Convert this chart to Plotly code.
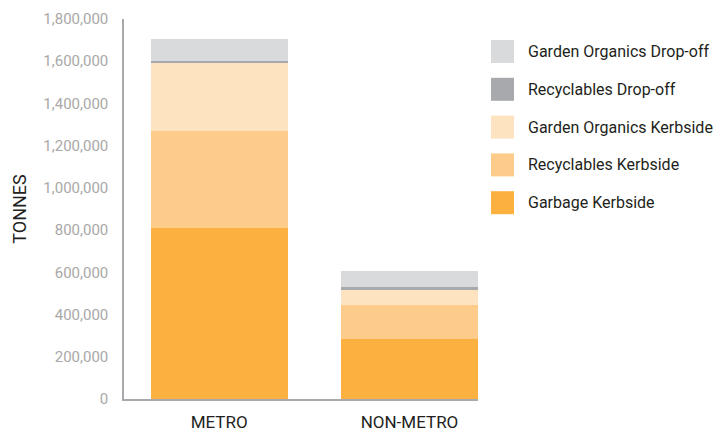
import plotly.graph_objects as go

categories = ["METRO", "NON-METRO"]
series_names = [
    "Garbage Kerbside",
    "Recyclables Kerbside",
    "Garden Organics Kerbside",
    "Recyclables Drop-off",
    "Garden Organics Drop-off",
]
garbage_kerbside = [810000, 284000]
recyclables_kerbside = [460000, 161000]
garden_organics_kerbside = [322000, 71000]
recyclables_dropoff = [10000, 14000]
garden_organics_dropoff = [103000, 76000]
series_values = [garbage_kerbside, recyclables_kerbside, garden_organics_kerbside,
                 recyclables_dropoff, garden_organics_dropoff]
colors = ["#FBB040", "#FDCC8A", "#FDE3C0", "#A7A9AC", "#D9DADB"]
y_tickvals = [0, 200000, 400000, 600000, 800000, 1000000, 1200000, 1400000, 1600000, 1800000]
y_ticktext = ["0", "200,000", "400,000", "600,000", "800,000", "1,000,000",
              "1,200,000", "1,400,000", "1,600,000", "1,800,000"]

W, H = 728, 432
ML, MR, MT, MB = 124, 250, 19, 33
PW, PH = W - ML - MR, H - MT - MB
FONT = "Roboto"

fig = go.Figure()
xpos = list(range(len(categories)))
for name, vals, col in zip(series_names, series_values, colors):
    fig.add_trace(go.Bar(x=xpos, y=vals, name=name, marker=dict(color=col, line=dict(width=0)),
                         showlegend=False))

def px_x(p):
    return (p - ML) / PW

def px_y(p):
    return 1 - (p - MT) / PH

# manual legend (top entry is last series)
legend_order = list(reversed(list(zip(series_names, colors))))
shapes = []
annotations = []
for i, (name, col) in enumerate(legend_order):
    top = 40 + i * 37.8
    shapes.append(dict(type="rect", xref="paper", yref="paper",
                       x0=px_x(491), x1=px_x(514), y0=px_y(top + 23), y1=px_y(top),
                       fillcolor=col, line=dict(width=0)))
    annotations.append(dict(xref="paper", yref="paper", x=px_x(526), y=px_y(top + 11.5),
                            text=name, showarrow=False, xanchor="left", yanchor="middle",
                            font=dict(family=FONT, size=16, color="#231F20")))

fig.update_layout(
    width=W, height=H,
    margin=dict(l=ML, r=MR, t=MT, b=MB, pad=0, autoexpand=False),
    barmode="stack", bargap=0.28,
    plot_bgcolor="white", paper_bgcolor="white",
    font=dict(family=FONT),
    shapes=shapes, annotations=annotations,
    xaxis=dict(tickvals=xpos, ticktext=categories, range=[-0.5, 1.36], automargin=False,
               showline=True, linecolor="#A7A9AC", linewidth=1.5, showgrid=False,
               zeroline=False, ticks="outside", ticklen=7, tickcolor="rgba(0,0,0,0)",
               tickfont=dict(family=FONT, size=17, color="#231F20")),
    yaxis=dict(range=[0, 1800000], tickvals=y_tickvals, ticktext=y_ticktext, automargin=False,
               showline=True, linecolor="#A7A9AC", linewidth=1.5, showgrid=False,
               zeroline=False, ticks="outside", ticklen=11, tickcolor="rgba(0,0,0,0)",
               tickfont=dict(family=FONT, size=15, color="#A8A8A8"),
               title=dict(text="TONNES", font=dict(family=FONT, size=18, color="#231F20"), standoff=12)),
)

fig.write_html("out.html")
